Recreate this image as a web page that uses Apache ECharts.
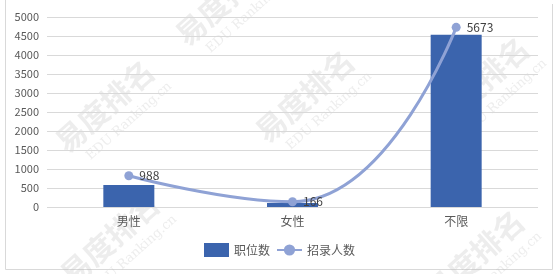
<!DOCTYPE html>
<html>
<head>
<meta charset="utf-8">
<script src="https://cdn.jsdelivr.net/npm/echarts@6/dist/echarts.min.js"></script>
<style>
html, body { margin: 0; padding: 0; background: #fff; }
#main { width: 559px; height: 274px; }
</style>
</head>
<body>
<div id="main"></div>
<script>
// 数据
const categories = ['男性', '女性', '不限'];
const positions = [580, 105, 4530];   // 职位数
const recruits = [988, 166, 5673];     // 招录人数
const yTicks = [0, 5000, 500];         // min, max, interval

const wmColor = 'rgba(190,190,190,0.28)';
function mark(x, y) {
  return [
    { type: 'text', x: x, y: y, rotation: Math.PI / 4.3, silent: true,
      style: { text: '易度排名', font: 'bold 30px "Noto Sans CJK SC"', fill: wmColor } },
    { type: 'text', x: x + 34, y: y + 18, rotation: Math.PI / 4.3, silent: true,
      style: { text: 'EDU Ranking.cn', font: '13px "DejaVu Serif"', fill: wmColor } }
  ];
}

const option = {
  animation: false,
  textStyle: { fontFamily: '"Noto Sans CJK SC", sans-serif' },
  graphic: [
    { type: 'polyline', silent: true,
      shape: { points: [[5.5, 0], [5.5, 269.5], [552.5, 269.5], [552.5, 4]] },
      style: { stroke: '#d9d9d9', fill: null, lineWidth: 1 } }
  ].concat(mark(50, 135), mark(250, 125), mark(425, 112), mark(55, 268), mark(420, 285), mark(170, 28)),
  grid: { left: 47, right: 21, top: 17, bottom: 67 },
  legend: {
    bottom: 12,
    left: 'center',
    itemGap: 6,
    textStyle: { color: '#595959', fontSize: 12 },
    data: [
      { name: '职位数', icon: 'rect', itemWidth: 27, itemHeight: 6 },
      { name: '招录人数', itemWidth: 28, itemHeight: 8 }
    ]
  },
  xAxis: {
    type: 'category',
    data: categories,
    axisLine: { show: false },
    axisTick: { show: false },
    axisLabel: { color: '#595959', fontSize: 12, margin: 8 }
  },
  yAxis: [
    {
      type: 'value',
      min: yTicks[0], max: yTicks[1], interval: yTicks[2],
      axisLine: { show: false },
      axisTick: { show: false },
      axisLabel: { color: '#595959', fontSize: 11, margin: 8, formatter: v => String(v) },
      splitLine: { lineStyle: { color: '#d9d9d9' } }
    },
    {
      type: 'value',
      min: 0, max: 6000,
      show: false,
      splitLine: { show: false }
    }
  ],
  series: [
    {
      name: '职位数',
      type: 'bar',
      barWidth: 51,
      data: positions,
      itemStyle: { color: '#3b64ad' }
    },
    {
      name: '招录人数',
      type: 'line',
      yAxisIndex: 1,
      smooth: 0.5,
      data: recruits,
      symbol: 'circle',
      symbolSize: 9,
      lineStyle: { color: '#8fa2d5', width: 3 },
      itemStyle: { color: '#8fa2d5' },
      label: { show: true, position: 'right', distance: 6, color: '#404040', fontSize: 12 }
    }
  ]
};

const chart = echarts.init(document.getElementById('main'));
chart.setOption(option);
</script>
</body>
</html>
